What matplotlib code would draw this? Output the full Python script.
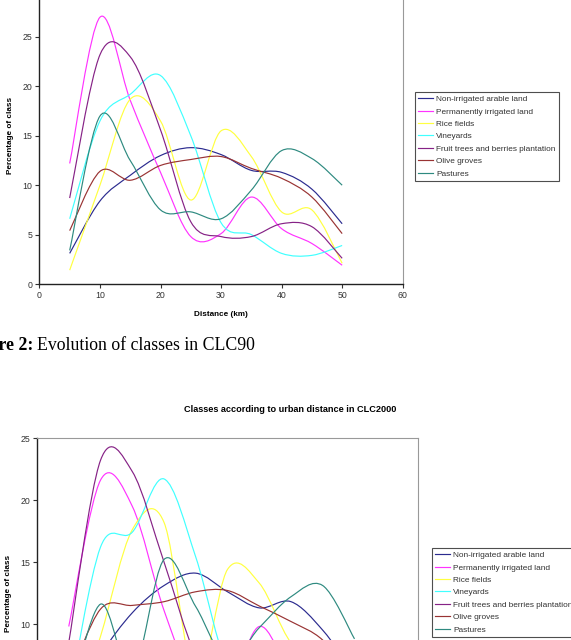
import numpy as np
import matplotlib.pyplot as plt
from matplotlib.path import Path
from matplotlib.patches import PathPatch

plt.rcParams['font.family'] = ['Liberation Sans', 'DejaVu Sans']

# distance from urban areas (km)
distance = [5, 10, 15, 20, 25, 30, 35, 40, 45, 50]

classes = ["Non-irrigated arable land", "Permanently irrigated land", "Rice fields",
           "Vineyards", "Fruit trees and berries plantation", "Olive groves", "Pastures"]
colors = ['#2b2b8f', '#ff33ff', '#ffff40', '#40ffff', '#862286', '#993333', '#2e8a80']

# CLC90 - percentage of class
clc90_arable = [3.1, 8.4, 11.0, 13.0, 13.8, 13.1, 11.5, 11.3, 9.6, 6.1]
clc90_irrigated = [12.2, 27.0, 18.6, 11.3, 4.8, 5.1, 8.8, 5.6, 4.1, 1.9]
clc90_rice = [1.4, 10.0, 18.7, 16.5, 8.5, 15.5, 12.9, 7.3, 7.5, 2.1]
clc90_vineyards = [6.6, 16.5, 19.2, 21.1, 15.0, 6.2, 5.0, 3.1, 2.9, 3.9]
clc90_fruit = [8.7, 23.2, 23.0, 15.6, 6.3, 4.8, 4.8, 6.1, 5.8, 2.6]
clc90_olive = [5.4, 11.4, 10.5, 12.0, 12.6, 12.9, 11.7, 10.7, 8.8, 5.1]
clc90_pastures = [3.4, 17.0, 12.5, 7.5, 7.3, 6.6, 9.5, 13.5, 12.7, 10.0]

# CLC2000 - percentage of class
clc00_arable = [3.0, 7.5, 10.9, 13.1, 14.1, 12.6, 11.3, 11.8, 9.5, 6.0]
clc00_irrigated = [9.8, 21.6, 19.5, 11.1, 5.0, 4.5, 9.8, 6.0, 4.0, 2.5]
clc00_rice = [1.0, 9.0, 17.6, 18.2, 5.5, 14.4, 13.3, 8.5, 7.0, 2.0]
clc00_vineyards = [4.0, 16.2, 17.4, 21.7, 15.4, 6.5, 4.5, 3.5, 3.0, 3.5]
clc00_fruit = [8.5, 23.2, 22.3, 15.0, 7.5, 5.0, 5.0, 6.0, 5.5, 2.5]
clc00_olive = [5.5, 11.2, 11.5, 11.8, 12.6, 12.7, 11.45, 10.2, 8.7, 5.5]
clc00_pastures = [3.5, 11.6, 6.0, 15.2, 11.4, 7.0, 9.7, 12.2, 13.1, 8.8]

clc90 = [clc90_arable, clc90_irrigated, clc90_rice, clc90_vineyards,
         clc90_fruit, clc90_olive, clc90_pastures]
clc00 = [clc00_arable, clc00_irrigated, clc00_rice, clc00_vineyards,
         clc00_fruit, clc00_olive, clc00_pastures]


# Excel-like "smoothed line": cubic bezier segments through every point
def smooth_path(x, y):
    p = np.column_stack([x, y]).astype(float)
    ext = np.vstack([p[0], p, p[-1]])
    verts = [p[0]]
    codes = [Path.MOVETO]
    for i in range(len(p) - 1):
        c1 = p[i] + (ext[i + 2] - ext[i]) / 6.0
        c2 = p[i + 1] - (ext[i + 3] - ext[i + 1]) / 6.0
        verts += [c1, c2, p[i + 1]]
        codes += [Path.CURVE4] * 3
    return Path(verts, codes)


def draw_chart(ax, data, ymax, leg_xy):
    for vals, name, c in zip(data, classes, colors):
        ax.add_patch(PathPatch(smooth_path(distance, vals), fill=False,
                               edgecolor=c, lw=0.85))
        ax.plot([], [], color=c, lw=0.85, label=name)
    ax.set_xlim(0, 60)
    ax.set_ylim(0, ymax)
    ax.set_xticks(range(0, 61, 10))
    ax.set_yticks(range(0, ymax + 1, 5))
    ax.tick_params(direction='out', length=3, width=0.8, labelsize=6.3,
                   colors='#333333', labelcolor='#333333', pad=2)
    for s in ['left', 'bottom']:
        ax.spines[s].set_color('#222222')
        ax.spines[s].set_linewidth(1.0)
    for s in ['top', 'right']:
        ax.spines[s].set_color('#999999')
        ax.spines[s].set_linewidth(0.8)
    ax.set_ylabel("Percentage of class", fontsize=5.9, fontweight='bold', labelpad=6)
    leg = ax.legend(loc='upper left', bbox_to_anchor=leg_xy,
                    bbox_transform=fig.transFigure, fontsize=5.95,
                    frameon=True, fancybox=False, handlelength=1.8,
                    handletextpad=0.35, labelspacing=0.56, borderpad=0.4,
                    borderaxespad=0)
    leg.get_frame().set_edgecolor('#222222')
    leg.get_frame().set_linewidth(0.8)
    for t in leg.get_texts():
        t.set_color('#333333')


W, H = 571, 640
fig = plt.figure(figsize=(W / 100, H / 100), dpi=100)

# top chart (CLC90), its upper part is cut off
ax1 = fig.add_axes([39.4 / W, 1 - 284 / H, 363.3 / W, 296.4 / H])
draw_chart(ax1, clc90, 30, (415 / W, 1 - 92 / H))
ax1.set_xlabel("Distance (km)", fontsize=5.9, fontweight='bold', labelpad=8)

fig.text(33 / W, 1 - 345 / H, "Figure 2:", family='Liberation Serif',
         fontweight='bold', fontsize=12.8, ha='right', va='center')
fig.text(37 / W, 1 - 345 / H, "Evolution of classes in CLC90",
         family='Liberation Serif', fontsize=12.8, ha='left', va='center')

# bottom chart (CLC2000), its lower part is cut off
ax2 = fig.add_axes([37 / W, 1 - 748 / H, 381 / W, 310 / H])
draw_chart(ax2, clc00, 25, (432 / W, 1 - 548 / H))
fig.text(290 / W, 1 - 409 / H, "Classes according to urban distance in CLC2000",
         fontsize=6.6, fontweight='bold', ha='center', va='center')

fig.savefig("out.png", dpi=100)
